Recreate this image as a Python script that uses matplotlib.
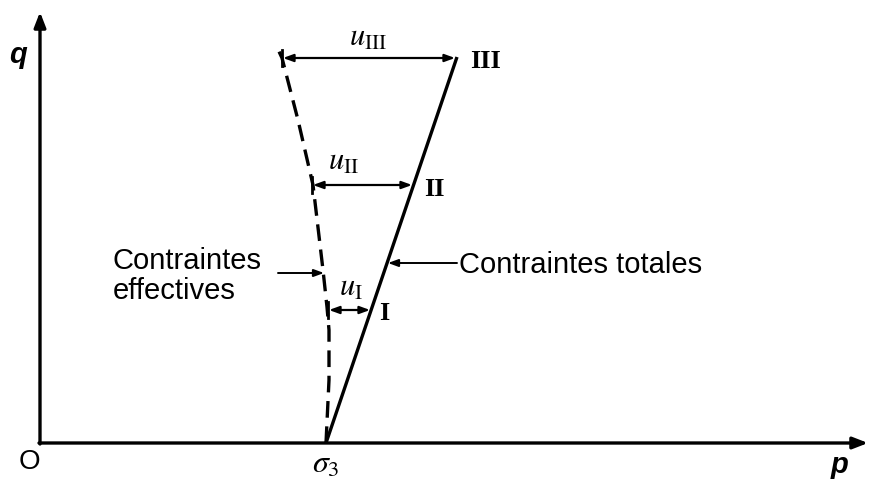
import matplotlib
matplotlib.use("Agg")
import matplotlib.pyplot as plt

plt.rcParams["mathtext.fontset"] = "stix"

# stress paths in the (p, q) plane, drawing units
sigma3 = 286
total_p = [286, 417]
total_q = [0, 386]
eff_p = [286, 289, 289, 287, 283, 273, 258, 242, 236]
eff_q = [0, 63, 113, 136, 173, 258, 323, 385, 398]

# pore pressure arrows: (q level, effective p, total p)
stages = ["I", "II", "III"]
stage_q = [133, 258, 385]
stage_eff = [288, 272, 242]
stage_tot = [331, 373, 416]

AX_P, AX_Q = 828, 431

fig = plt.figure(figsize=(8.73, 4.83), dpi=100)
ax = fig.add_axes([0, 0, 1, 1])
ax.set_xlim(-40, 833)
ax.set_ylim(-40, 443)
ax.axis("off")

axis_kw = dict(arrowstyle="-|>,head_length=0.9,head_width=0.35", lw=2.4, color="black",
               shrinkA=0, shrinkB=0)
ax.annotate("", xy=(AX_P, 0), xytext=(-1, 0), arrowprops=axis_kw)
ax.annotate("", xy=(0, AX_Q), xytext=(0, -1), arrowprops=axis_kw)

ax.plot(total_p, total_q, color="black", lw=2.4, solid_capstyle="butt")
ax.plot(eff_p, eff_q, color="black", lw=2.4, dashes=(5, 2.6))

dbl = dict(arrowstyle="<|-|>,head_length=0.6,head_width=0.22", lw=1.6, color="black",
           shrinkA=0, shrinkB=0)
for q, pe, pt in zip(stage_q, stage_eff, stage_tot):
    ax.annotate("", xy=(pt - 1, q), xytext=(pe + 1, q), arrowprops=dbl)
    ax.plot([pe, pe], [q - 8, q + 8], color="black", lw=2)

serif = "Liberation Serif"
for name, q, pt in zip(stages, stage_q, stage_tot):
    ax.text(pt + 5 + 3 * len(name), q - 4, name, family=serif, fontsize=19,
            fontweight="bold", ha="left", va="center")

sub_tex = {"I": r"$u_{\mathrm{I}}$", "II": r"$u_{\mathrm{II}}$", "III": r"$u_{\mathrm{III}}$"}
label_pos = [(311, 156), (304, 282), (328, 406)]
for name, (x, y) in zip(stages, label_pos):
    ax.text(x, y, sub_tex[name], fontsize=22, ha="center", va="center")

sans = "Liberation Sans"
ax.text(73, 167, "Contraintes\neffectives", family=sans, fontsize=21,
        ha="left", va="center", linespacing=1.05)
ax.annotate("", xy=(284, 170), xytext=(238, 170),
            arrowprops=dict(arrowstyle="-|>,head_length=0.6,head_width=0.22", lw=1.4,
                            color="black", shrinkA=0, shrinkB=0))
ax.text(419, 178, "Contraintes totales", family=sans, fontsize=21, ha="left", va="center")
ax.annotate("", xy=(348, 180), xytext=(417, 180),
            arrowprops=dict(arrowstyle="-|>,head_length=0.6,head_width=0.22", lw=1.4,
                            color="black", shrinkA=0, shrinkB=0))

ax.text(-22, 388, "q", family=sans, fontsize=21, style="italic", fontweight="bold",
        ha="center", va="center")
ax.text(-11, -19, "O", family=sans, fontsize=20, ha="center", va="center")
ax.text(800, -22, "p", family=sans, fontsize=21, style="italic", fontweight="bold",
        ha="center", va="center")
ax.text(sigma3, -21, r"$\sigma_3$", fontsize=23, ha="center", va="center")

fig.savefig("out.png", dpi=100)
